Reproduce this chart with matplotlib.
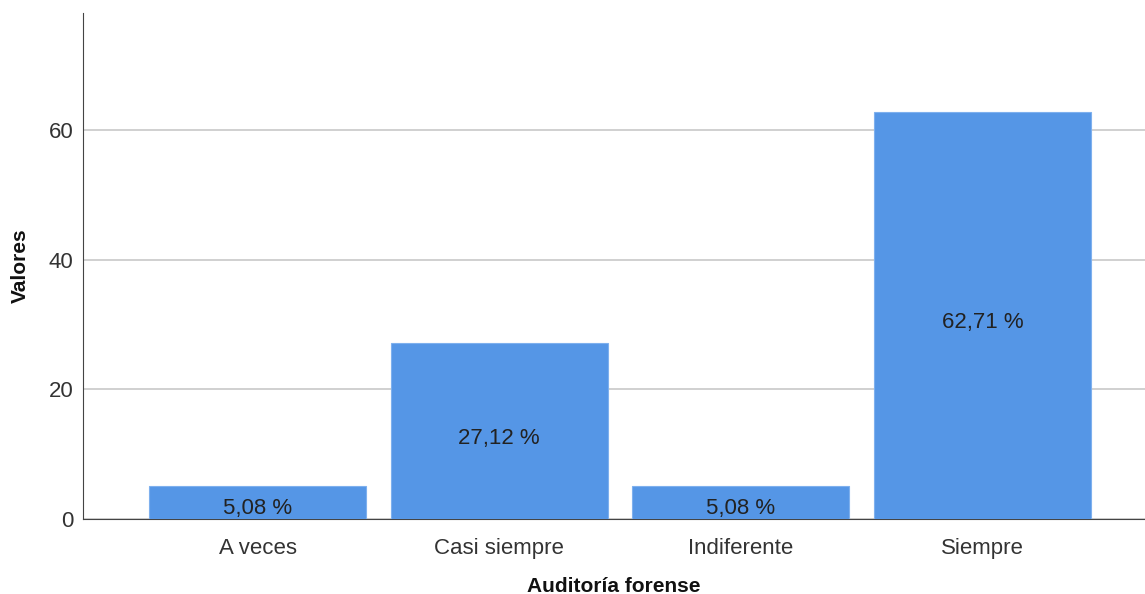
import matplotlib
matplotlib.use("Agg")
import matplotlib.pyplot as plt

categories = ["A veces", "Casi siempre", "Indiferente", "Siempre"]
values = [5.08, 27.12, 5.08, 62.71]
labels = ["5,08 %", "27,12 %", "5,08 %", "62,71 %"]
yticks = [0, 20, 40, 60]

plt.rcParams['font.family'] = ['Liberation Sans', 'DejaVu Sans']

fig = plt.figure(figsize=(11.45, 5.94), dpi=100)
ax = fig.add_axes([83/1145, 1-519/594, 1-83/1145, (519-13)/594])

x = list(range(len(categories)))
bars = ax.bar(x, values, width=0.898, color="#5596E6", edgecolor="#7EB0EE", linewidth=0.8, zorder=3)
for xi, v, lab in zip(x, values, labels):
    y = v/2 - 1.1 if v > 10 else v/2 - 0.9
    ax.text(xi, y, lab, ha="center", va="center", fontsize=16, color="#222222", zorder=4)

ax.set_xlim(-0.722, 3.672)
ax.set_ylim(0, 78)
ax.set_yticks(yticks)
ax.set_xticks(x)
ax.set_xticklabels(categories)
ax.yaxis.grid(True, color="#c8c8c8", linewidth=1.2, zorder=0)
ax.set_axisbelow(True)
ax.tick_params(axis="both", length=0, labelsize=16, labelcolor="#333333")
ax.tick_params(axis="x", pad=14)
ax.tick_params(axis="y", pad=7)
for s in ["top", "right"]:
    ax.spines[s].set_visible(False)
ax.spines["left"].set_color("#444444")
ax.spines["bottom"].set_color("#444444")
ax.set_xlabel("Auditoría forense", fontsize=15, fontweight="bold", color="#111111", va="center")
ax.set_ylabel("Valores", fontsize=15, fontweight="bold", color="#111111", va="center")
ax.xaxis.set_label_coords((614-83)/1062, (519-586)/506)
ax.yaxis.set_label_coords((20-83)/1062, (519-266)/506)

fig.savefig("out.png", dpi=100)
